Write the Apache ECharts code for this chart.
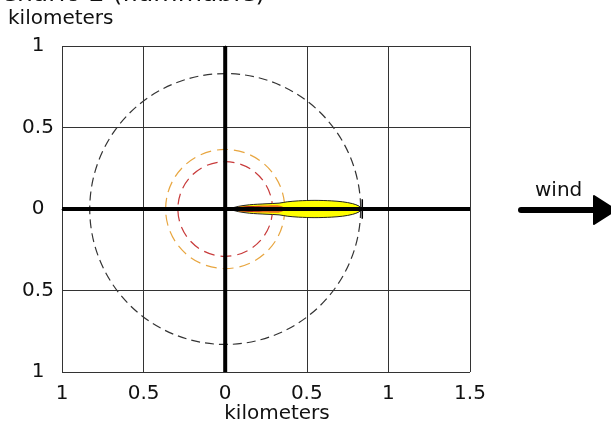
<!DOCTYPE html>
<html>
<head>
<meta charset="utf-8">
<script src="https://cdn.jsdelivr.net/npm/echarts@6/dist/echarts.min.js"></script>
<style>
  html, body { margin: 0; padding: 0; background: #fff; }
  #chart { width: 611px; height: 423px; }
</style>
</head>
<body>
<div id="chart"></div>
<script>
// Axis ticks (km)
const xTicks = [-1, -0.5, 0, 0.5, 1, 1.5];
const yTicks = [-1, -0.5, 0, 0.5, 1];

// Threat-zone circles around the source (radius in km)
const circleRadii = [0.83, 0.365, 0.29];
const circleColors = ['#333333', '#E8A640', '#C83A3A'];

// Flammable vapour cloud footprint: downwind distance (km) and half-width (km)
const yellowX = [0.02, 0.08, 0.15, 0.25, 0.33, 0.38, 0.45, 0.55, 0.65, 0.72, 0.78, 0.82, 0.84];
const yellowHalf = [0, 0.016, 0.026, 0.032, 0.036, 0.044, 0.05, 0.053, 0.05, 0.044, 0.033, 0.018, 0];
const orangeX = [0.025, 0.08, 0.15, 0.25, 0.32, 0.35, 0.37];
const orangeHalf = [0, 0.012, 0.018, 0.022, 0.023, 0.015, 0];
const redX = [0.02, 0.06, 0.12, 0.18, 0.23, 0.26];
const redHalf = [0, 0.01, 0.015, 0.016, 0.013, 0];

const zones = [
  { xs: yellowX, hw: yellowHalf, fill: '#FFFF00', stroke: '#222' },
  { xs: orangeX, hw: orangeHalf, fill: '#E8701E', stroke: null },
  { xs: redX, hw: redHalf, fill: '#9E1414', stroke: null }
];

const font = 'DejaVu Sans';
const chart = echarts.init(document.getElementById('chart'));

function polygonPoints(api, xs, hw) {
  const pts = [];
  for (let i = 0; i < xs.length; i++) pts.push(api.coord([xs[i], hw[i]]));
  for (let i = xs.length - 1; i >= 0; i--) pts.push(api.coord([xs[i], -hw[i]]));
  return pts;
}

chart.setOption({
  animation: false,
  backgroundColor: '#fff',
  grid: { left: 62, right: 141, top: 46, bottom: 51, outerBoundsMode: 'none', containLabel: false },
  xAxis: {
    type: 'value', min: xTicks[0], max: xTicks[xTicks.length - 1], interval: 0.5,
    name: 'kilometers', nameLocation: 'middle', nameGap: 32, nameMoveOverlap: false,
    nameTextStyle: { fontFamily: font, fontSize: 20, color: '#111', padding: [0, 0, 0, 22] },
    axisLine: { lineStyle: { color: '#333', width: 1 } },
    axisTick: { show: false },
    axisLabel: { fontFamily: font, fontSize: 20, color: '#111', margin: 12,
      formatter: v => String(Math.abs(v)) },
    splitLine: { show: true, lineStyle: { color: '#333', width: 1 } }
  },
  yAxis: {
    type: 'value', min: yTicks[0], max: yTicks[yTicks.length - 1], interval: 0.5,
    axisLine: { lineStyle: { color: '#333', width: 1 } },
    axisTick: { show: false },
    axisLabel: { fontFamily: font, fontSize: 20, color: '#111', margin: 24, align: 'center',
      formatter: v => String(Math.abs(v)) },
    splitLine: { show: true, lineStyle: { color: '#333', width: 1 } }
  },
  graphic: [
    { type: 'text', left: -28, top: -18, z: 10,
      style: { text: 'Scenario 2 (flammable)', font: '25px "DejaVu Sans"', fill: '#111' } },
    { type: 'text', left: 8, top: 9, z: 10,
      style: { text: 'kilometers', font: '20px "DejaVu Sans"', fill: '#111' } },
    { type: 'text', left: 535, top: 181, z: 10,
      style: { text: 'wind', font: '20px "DejaVu Sans"', fill: '#111' } },
    { type: 'line', z: 10, shape: { x1: 521, y1: 210, x2: 598, y2: 210 },
      style: { stroke: '#000', lineWidth: 6, lineCap: 'round' } },
    { type: 'polygon', z: 10, shape: { points: [[594, 196], [616, 210], [594, 224]] },
      style: { fill: '#000', stroke: '#000', lineWidth: 2, lineJoin: 'round' } }
  ],
  series: [
    {
      type: 'custom', z: 3, silent: true,
      data: circleRadii.map((r, i) => [0, 0, r, i]),
      renderItem: (params, api) => {
        const c = api.coord([api.value(0), api.value(1)]);
        const r = api.size([api.value(2), 0])[0];
        const i = api.value(3);
        return {
          type: 'circle',
          shape: { cx: c[0], cy: c[1], r: r },
          style: { fill: 'none', stroke: circleColors[i], lineWidth: 1.2,
            lineDash: i === 0 ? [9, 5] : [11, 6] }
        };
      }
    },
    {
      type: 'custom', z: 4, silent: true,
      data: zones.map((z, i) => [i]),
      renderItem: (params, api) => {
        const zone = zones[params.dataIndex];
        return {
          type: 'polygon',
          shape: { points: polygonPoints(api, zone.xs, zone.hw), smooth: 0.3 },
          style: { fill: zone.fill, stroke: zone.stroke || 'none', lineWidth: 1 }
        };
      }
    },
    {
      type: 'line', z: 6, silent: true, symbol: 'none',
      data: [[xTicks[0], 0], [xTicks[xTicks.length - 1], 0]],
      lineStyle: { color: '#000', width: 4 }
    },
    {
      type: 'line', z: 6, silent: true, symbol: 'none',
      data: [[0, yTicks[0]], [0, yTicks[yTicks.length - 1]]],
      lineStyle: { color: '#000', width: 4 }
    },
    {
      // end mark of the flammable zone
      type: 'line', z: 6, silent: true, symbol: 'none',
      data: [[yellowX[yellowX.length - 1], -0.06], [yellowX[yellowX.length - 1], 0.06]],
      lineStyle: { color: '#000', width: 1.5 }
    }
  ]
});
</script>
</body>
</html>
